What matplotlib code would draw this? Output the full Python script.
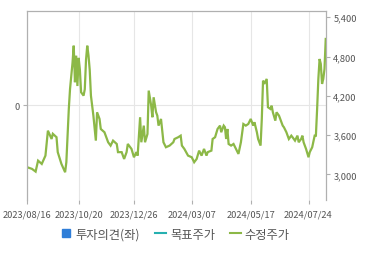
import matplotlib
matplotlib.use("Agg")
import matplotlib.pyplot as plt
from matplotlib.lines import Line2D
from matplotlib.ticker import FuncFormatter

plt.rcParams['font.family'] = ['Noto Sans CJK KR', 'DejaVu Sans']

# trading-day index and adjusted price
day = [0, 4, 7, 9, 12, 15, 17, 20, 21, 24, 25, 28, 31, 32, 34, 35, 36, 37, 38, 39,
       40, 41, 42, 43, 44, 46, 47, 48, 49, 50, 51, 52, 54, 56, 57, 59, 60, 63, 66, 68,
       70, 73, 74, 77, 79, 81, 82, 85, 87, 89, 90, 92, 93, 95, 96, 98, 99, 101, 102, 103,
       105, 106, 107, 109, 111, 113, 116, 119, 120, 123, 125, 126, 128, 131, 134, 136, 138, 140, 142, 144,
       146, 147, 150, 151, 153, 155, 157, 158, 160, 161, 162, 163, 164, 166, 168, 170, 172, 174, 176, 178,
       180, 182, 184, 185, 187, 188, 190, 191, 192, 193, 195, 196, 198, 199, 200, 202, 203, 205, 206, 208,
       209, 211, 213, 215, 216, 218, 220, 221, 223, 224, 225, 227, 229, 230, 232, 234, 235, 236, 237, 238,
       239, 240, 241, 242, 243]
price = [3110, 3085, 3043, 3210, 3160, 3287, 3668, 3541, 3620, 3568, 3340, 3160, 3033, 3186, 4000, 4305, 4508, 4700, 4966, 4408,
         4814, 4350, 4780, 4600, 4255, 4203, 4300, 4750, 4966, 4820, 4600, 4203, 3897, 3516, 3949, 3847, 3694, 3644, 3491, 3440,
         3516, 3465, 3340, 3340, 3236, 3340, 3465, 3389, 3262, 3340, 3287, 3873, 3491, 3745, 3491, 3618, 4280, 4050, 3873, 4178,
         3949, 3897, 3745, 3847, 3491, 3415, 3440, 3491, 3541, 3568, 3592, 3440, 3389, 3287, 3262, 3186, 3236, 3363, 3287, 3389,
         3287, 3340, 3363, 3541, 3568, 3694, 3745, 3644, 3745, 3720, 3541, 3694, 3465, 3440, 3465, 3389, 3313, 3491, 3770, 3745,
         3770, 3847, 3745, 3797, 3644, 3541, 3440, 3847, 4432, 4382, 4458, 4026, 4000, 4050, 3949, 3821, 3949, 3897, 3847, 3745,
         3720, 3644, 3541, 3592, 3568, 3516, 3592, 3491, 3541, 3592, 3491, 3389, 3262, 3340, 3415, 3592, 3592, 4000, 4458, 4763,
         4687, 4382, 4458, 4610, 5069]

tick_days = [0, 42, 87, 134, 182, 229]
tick_labels = ['2023/08/16', '2023/10/20', '2023/12/26', '2024/03/07', '2024/05/17', '2024/07/24']
right_ticks = [3000, 3600, 4200, 4800, 5400]
left_ticks = [0]

legend_labels = ['투자의견(좌)', '목표주가', '수정주가']

GREEN = '#8cb847'
BLUE = '#2f7ed8'
TEAL = '#26b0b0'
SPINE = '#b0b0b0'
GRID = '#e6e6e6'
TXT = '#555555'

fig = plt.figure(figsize=(3.7, 2.55), dpi=100)
ax = fig.add_axes([0.073, 0.212, 0.809, 0.741])
ax2 = ax.twinx()

ax.set_xlim(0, 243.5)
ax.set_ylim(-1, 1)
ax.set_yticks(left_ticks)
ax.set_yticklabels([str(v) for v in left_ticks])
ax.set_xticks(tick_days)
ax.set_xticklabels(tick_labels)
ax.grid(True, color=GRID, linewidth=0.8)
ax.set_axisbelow(True)

ax2.plot(day, price, color=GREEN, linewidth=1.6, solid_joinstyle='miter')
ax2.set_ylim(2610, 5496)
ax2.set_yticks(right_ticks)
ax2.yaxis.set_major_formatter(FuncFormatter(lambda v, p: f'{int(v):,}'))

for a in (ax, ax2):
    for s in ('top', 'left', 'right'):
        a.spines[s].set_color(SPINE)
        a.spines[s].set_linewidth(0.8)
    a.spines['bottom'].set_visible(False)
    a.tick_params(colors=SPINE, labelcolor=TXT, labelsize=6.7, length=3, width=0.8, pad=2)
ax.tick_params(axis='x', pad=4)

handles = [
    Line2D([], [], marker='s', linestyle='none', color=BLUE, markersize=5.5),
    Line2D([], [], color=TEAL, linewidth=1.5),
    Line2D([], [], color=GREEN, linewidth=1.5),
]
fig.legend(handles, legend_labels, loc='center', bbox_to_anchor=(0.473, 0.078), ncol=3,
           frameon=False, fontsize=8.8, handlelength=0.9, handletextpad=0.35, columnspacing=1.2,
           labelcolor=TXT)

fig.savefig('out.png', dpi=100)
